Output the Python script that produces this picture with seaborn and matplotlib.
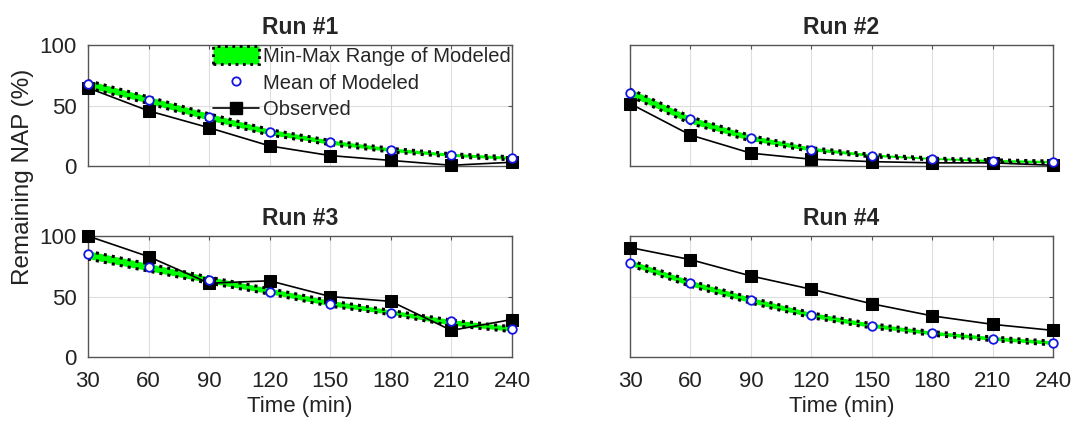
import matplotlib
matplotlib.use("Agg")
import matplotlib.pyplot as plt
from matplotlib.lines import Line2D
from matplotlib.patches import Patch
import pandas as pd
import seaborn as sns

# sampling times (min)
times = [30, 60, 90, 120, 150, 180, 210, 240]

# Run #1
run1_obs = [65, 46, 32, 17, 9, 5, 1, 3.5]
run1_mean = [68, 55, 41, 28.5, 20, 13.5, 9.5, 7]
run1_min = [65, 52, 38, 26, 18, 12, 8, 5.5]
run1_max = [71, 57.5, 43.5, 30.5, 21.5, 15, 10.5, 8]

# Run #2
run2_obs = [52, 26, 11, 6, 4, 3, 3, 1]
run2_mean = [61, 39, 23.5, 14, 9, 6.5, 4.5, 3.5]
run2_min = [58, 35.5, 21, 12.5, 8, 5.5, 3.5, 2.5]
run2_max = [64, 41, 25.5, 15.5, 10, 7, 5.5, 4.5]

# Run #3
run3_obs = [100, 83, 61, 63, 50, 46, 22, 31]
run3_mean = [85, 74.5, 64, 54, 44, 36.5, 29.5, 23.5]
run3_min = [81, 71, 61, 52, 42, 35, 26, 21]
run3_max = [87.5, 77, 66, 56.5, 46.5, 38.5, 30.5, 25]

# Run #4
run4_obs = [90.5, 80.5, 67, 56, 44, 34, 27, 22]
run4_mean = [78, 61, 47, 34.5, 25.5, 19.5, 15, 11.5]
run4_min = [75.5, 58.5, 44.5, 32.5, 24, 18, 13.5, 10]
run4_max = [80, 63, 49, 36.5, 27.5, 21, 16.5, 13]

run_titles = ["Run #1", "Run #2", "Run #3", "Run #4"]
obs_all = [run1_obs, run2_obs, run3_obs, run4_obs]
mean_all = [run1_mean, run2_mean, run3_mean, run4_mean]
min_all = [run1_min, run2_min, run3_min, run4_min]
max_all = [run1_max, run2_max, run3_max, run4_max]

sns.set_style("white")
plt.rcParams["font.family"] = ["Liberation Sans", "DejaVu Sans"]

fig = plt.figure(figsize=(10.74, 4.22), dpi=100)
boxes = [
  [0.0819, 0.6055, 0.3948, 0.2867],
  [0.5866, 0.6055, 0.3939, 0.2867],
  [0.0819, 0.1540, 0.3948, 0.2867],
  [0.5866, 0.1540, 0.3939, 0.2867],
]

green = "#00ff00"
blue = "#1414e6"

for i, box in enumerate(boxes):
  ax = fig.add_axes(box)
  df = pd.DataFrame({
    "time": times,
    "observed": obs_all[i],
    "mean": mean_all[i],
    "lo": min_all[i],
    "hi": max_all[i],
  })

  # modeled min-max band
  ax.fill_between(df["time"], df["lo"], df["hi"], facecolor=green,
                  edgecolor="none", zorder=2)
  ax.plot(df["time"], df["lo"], ls=":", color="black", lw=2.2, zorder=3)
  ax.plot(df["time"], df["hi"], ls=":", color="black", lw=2.2, zorder=3)

  # observed
  sns.lineplot(x="time", y="observed", data=df, ax=ax, color="black",
               lw=1.2, marker="s", markersize=8, markeredgecolor="black",
               markerfacecolor="black", zorder=4, clip_on=False)

  # mean of modeled
  sns.scatterplot(x="time", y="mean", data=df, ax=ax, marker="o", s=38,
                  facecolor="white", edgecolor=blue, linewidth=1.3,
                  zorder=5, clip_on=False)

  ax.set_xlim(30, 240)
  ax.set_ylim(0, 100)
  ax.set_xticks(times)
  ax.set_yticks([0, 50, 100])
  ax.grid(True, color="#dedede", lw=0.8)
  ax.set_axisbelow(True)
  for sp in ax.spines.values():
    sp.set_color("#555555")
    sp.set_linewidth(1.0)
  ax.tick_params(direction="in", length=3, labelsize=16, color="#555555",
                 top=True, right=True, labelcolor="#222222")
  ax.tick_params(axis="x", pad=10)
  ax.tick_params(axis="y", pad=8)
  ax.set_title(run_titles[i], fontsize=16.5, fontweight="bold", pad=8)
  ax.set_ylabel("")
  if i < 2:
    ax.set_xticklabels([])
    ax.set_xlabel("")
  else:
    ax.set_xlabel("Time (min)", fontsize=16, labelpad=3, color="#222222")
  if i % 2 == 1:
    ax.set_yticklabels([])

  if i == 0:
    handles = [
      Patch(facecolor=green, edgecolor="black", linestyle=":", linewidth=2),
      Line2D([], [], ls="none", marker="o", markersize=6,
             markerfacecolor="white", markeredgecolor=blue,
             markeredgewidth=1.3),
      Line2D([], [], color="black", lw=1.2, marker="s", markersize=8,
             markerfacecolor="black"),
    ]
    labels = ["Min-Max Range of Modeled", "Mean of Modeled", "Observed"]
    ax.legend(handles, labels, loc="upper right", frameon=False,
              fontsize=14.5, bbox_to_anchor=(1.0, 1.0), borderaxespad=0,
              borderpad=0.05, handlelength=2.3, handleheight=0.95,
              handletextpad=0.2, labelspacing=0.35)

fig.text(0.021, 0.58, "Remaining NAP (%)", rotation=90, fontsize=17.5,
         ha="center", va="center", color="#222222")

plt.savefig("out.png", dpi=100)
